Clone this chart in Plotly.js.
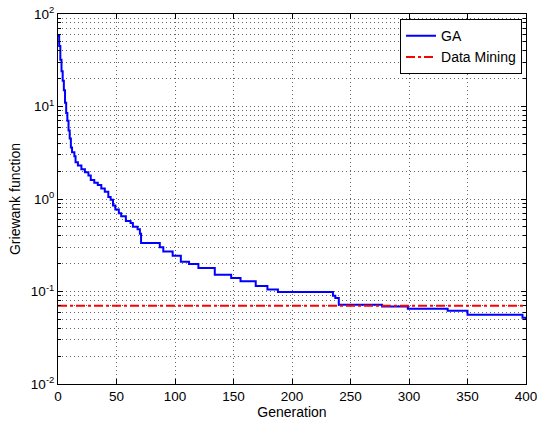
<!DOCTYPE html>
<html><head><meta charset="utf-8">
<script src="https://cdn.plot.ly/plotly-3.0.1.min.js"></script>
<style>html,body{margin:0;padding:0;background:#fff}#chart{width:537px;height:423px}</style>
</head><body><div id="chart"></div>
<script>
const gaGen = [0,1,2,3,4,5,6,7,8,9,10,11,12,14,15,17,20,23,26,28,31,34,37,40,43,45,47,49,52,54,58,62,64,68,70,71,87,90,98,105,112,120,134,148,156,169,179,188,235,237,240,277,299,333,350,397,400];
const gaVal = [58,45,32,24,19,15,11,8.5,7,5.5,4.5,3.6,3.2,2.9,2.5,2.3,2.1,1.95,1.8,1.6,1.5,1.42,1.3,1.2,1.05,0.98,0.85,0.77,0.7,0.65,0.58,0.55,0.5,0.47,0.42,0.335,0.30,0.27,0.244,0.21,0.198,0.18,0.152,0.14,0.129,0.115,0.105,0.099,0.09,0.085,0.0718,0.0689,0.065,0.0618,0.056,0.052,0.05];
const dmGen = [0,400];
const dmVal = [0.07,0.07];
const yTickVals = [0.01,0.1,1,10,100];
const yTickText = ['10<sup>-2</sup>','10<sup>-1</sup>','10<sup>0</sup>','10<sup>1</sup>','10<sup>2</sup>'];
const xTickVals = [0,50,100,150,200,250,300,350,400];

const traces = [
  {x: gaGen, y: gaVal, name: 'GA', mode: 'lines', line: {color: '#0000ff', width: 2, shape: 'hv'}},
  {x: dmGen, y: dmVal, name: 'Data Mining', mode: 'lines', line: {color: '#ff0000', width: 2, dash: 'dashdot'}}
];
const fam = 'Liberation Sans, Arial, sans-serif';
const tickFont = {family: fam, size: 13.5, color: '#000'};
const gridDash = '1px,3px';
const layout = {
  width: 537, height: 423,
  margin: {l: 58, r: 11, t: 14, b: 39},
  paper_bgcolor: '#fff', plot_bgcolor: '#fff',
  font: {family: fam, size: 13, color: '#000'},
  showlegend: true,
  legend: {x: 0.9915, y: 0.986, xanchor: 'right', yanchor: 'top', bordercolor: '#000', borderwidth: 1, bgcolor: '#fff', font: {family: fam, size: 14, color: '#000'}, tracegroupgap: 0, itemwidth: 30},
  xaxis: {
    range: [0, 400], tickvals: xTickVals, ticks: 'inside', ticklen: 5, tickcolor: '#000',
    ticklabeloverflow: 'allow',
    showline: true, linecolor: '#000', linewidth: 1, mirror: 'ticks',
    showgrid: true, gridcolor: '#666', griddash: gridDash, gridwidth: 1, zeroline: false,
    title: {text: 'Generation', font: {family: fam, size: 14, color: '#000'}, standoff: 2},
    tickfont: tickFont
  },
  yaxis: {
    type: 'log', range: [-2, 2], tickvals: yTickVals, ticktext: yTickText,
    ticks: 'inside', ticklen: 5, tickcolor: '#000',
    ticklabeloverflow: 'allow',
    showline: true, linecolor: '#000', linewidth: 1, mirror: 'ticks',
    showgrid: true, gridcolor: '#666', griddash: gridDash, gridwidth: 1, zeroline: false,
    minor: {dtick: 'D1', ticks: 'inside', ticklen: 3, tickcolor: '#000', showgrid: true, gridcolor: '#666', griddash: gridDash, gridwidth: 1},
    title: {text: 'Griewank function', font: {family: fam, size: 14, color: '#000'}, standoff: 6},
    tickfont: tickFont
  }
};
Plotly.newPlot('chart', traces, layout, {staticPlot: true, displayModeBar: false});
</script></body></html>
